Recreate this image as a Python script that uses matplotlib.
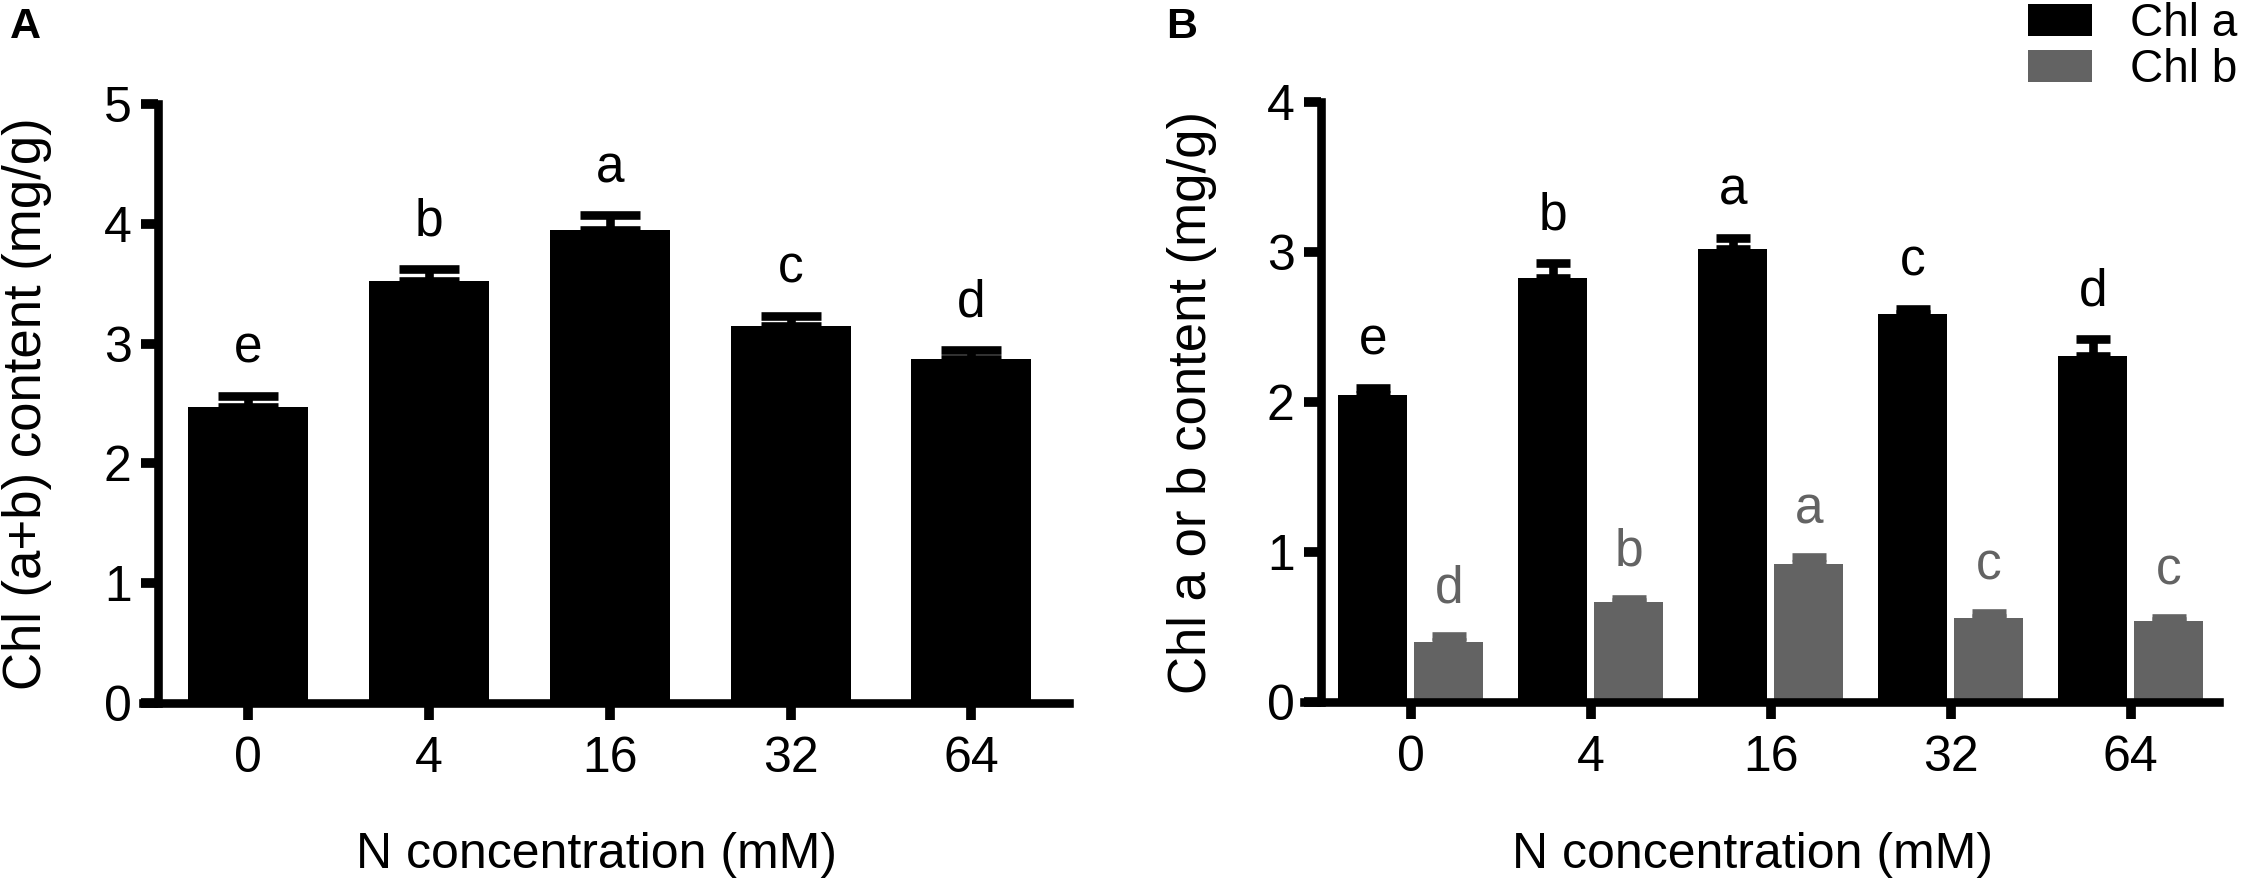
import matplotlib
matplotlib.use("Agg")
import matplotlib.pyplot as plt
import numpy as np

plt.rcParams['font.family'] = ['Liberation Sans', 'DejaVu Sans']

# data
conc_labels = ['0', '4', '16', '32', '64']

total_mean = [2.47, 3.52, 3.95, 3.15, 2.87]
total_err = [0.09, 0.10, 0.12, 0.08, 0.08]
total_letters = ['e', 'b', 'a', 'c', 'd']

chla_mean = [2.05, 2.83, 3.02, 2.59, 2.31]
chla_err = [0.045, 0.10, 0.075, 0.03, 0.11]
chla_letters = ['e', 'b', 'a', 'c', 'd']

chlb_mean = [0.40, 0.67, 0.92, 0.56, 0.54]
chlb_err = [0.04, 0.015, 0.05, 0.035, 0.02]
chlb_letters = ['d', 'b', 'a', 'c', 'c']

GRAY = '#636363'
FS = 36
LW = 6.2

W, H = 2245, 883
fig = plt.figure(figsize=(W / 100, H / 100), dpi=100)


def style_axis(ax, ymax, left_data):
    for s in ['top', 'right']:
        ax.spines[s].set_visible(False)
    ax.spines['left'].set_position(('data', left_data))
    ax.spines['left'].set_linewidth(LW)
    ax.spines['bottom'].set_linewidth(LW)
    ax.spines['left'].set_bounds(0, ymax)
    ax.set_ylim(0, ymax)
    ax.set_yticks(range(0, ymax + 1))
    ax.tick_params(axis='both', width=7, length=12, labelsize=FS)
    ax.tick_params(axis='y', pad=7)
    ax.tick_params(axis='x', pad=12)
    ax.set_xticks(np.arange(len(conc_labels)))
    ax.set_xticklabels(conc_labels)


def put_letters(ax, xs, means, errs, letters, color):
    for x, m, e, t in zip(xs, means, errs, letters):
        ax.annotate(t, (x, m + e), xytext=(0, 24), textcoords='offset points',
                    ha='center', va='baseline', fontsize=37, color=color)


# panel A
axA = fig.add_axes([143 / W, 1 - 703 / H, 926 / W, 599 / H])
x = np.arange(len(conc_labels))
axA.bar(x, total_mean, width=0.664, color='black', zorder=2)
axA.errorbar(x, total_mean, yerr=[np.zeros(5), total_err], fmt='none',
             ecolor='black', elinewidth=LW, capsize=21.5, capthick=LW, zorder=1)
axA.set_xlim(-0.583, 4.54)
style_axis(axA, 5, -0.5)
put_letters(axA, x, total_mean, total_err, total_letters, 'black')
axA.set_ylabel('Chl (a+b) content (mg/g)', fontsize=38)
axA.yaxis.set_label_coords(-0.098, 0.5)

# panel B
axB = fig.add_axes([1304 / W, 1 - 702 / H, 915 / W, 600 / H])
off, bw = 0.211, 0.383
axB.bar(x - off, chla_mean, width=bw, color='black', zorder=2, label='Chl a')
axB.bar(x + off, chlb_mean, width=bw, color=GRAY, zorder=2, label='Chl b')
axB.errorbar(x - off, chla_mean, yerr=[np.zeros(5), chla_err], fmt='none',
             ecolor='black', elinewidth=LW, capsize=12, capthick=LW, zorder=1)
axB.errorbar(x + off, chlb_mean, yerr=[np.zeros(5), chlb_err], fmt='none',
             ecolor=GRAY, elinewidth=LW, capsize=12, capthick=LW, zorder=1)
axB.set_xlim(-0.594, 4.49)
style_axis(axB, 4, -0.5)
put_letters(axB, x - off, chla_mean, chla_err, chla_letters, 'black')
put_letters(axB, x + off, chlb_mean, chlb_err, chlb_letters, GRAY)
axB.set_ylabel('Chl a or b content (mg/g)', fontsize=38)
axB.yaxis.set_label_coords(-0.095, 0.5)

handles, labels = axB.get_legend_handles_labels()
fig.legend(handles, labels, loc='upper left', bbox_to_anchor=(2028 / W, 1 - 2 / H),
           frameon=False, fontsize=33, handlelength=1.4, handleheight=0.7,
           handletextpad=0.83, labelspacing=0.05, borderpad=0, borderaxespad=0)

# x labels and panel letters
fig.text(596 / W, 1 - 868 / H, 'N concentration (mM)', ha='center', va='baseline', fontsize=FS)
fig.text(1753 / W, 1 - 868 / H, 'N concentration (mM)', ha='center', va='baseline', fontsize=FS)
fig.text(10 / W, 1 - 7 / H, 'A', ha='left', va='top', fontsize=31, fontweight='bold')
fig.text(1166 / W, 1 - 7 / H, 'B', ha='left', va='top', fontsize=31, fontweight='bold')

fig.savefig('out.png', dpi=100)
